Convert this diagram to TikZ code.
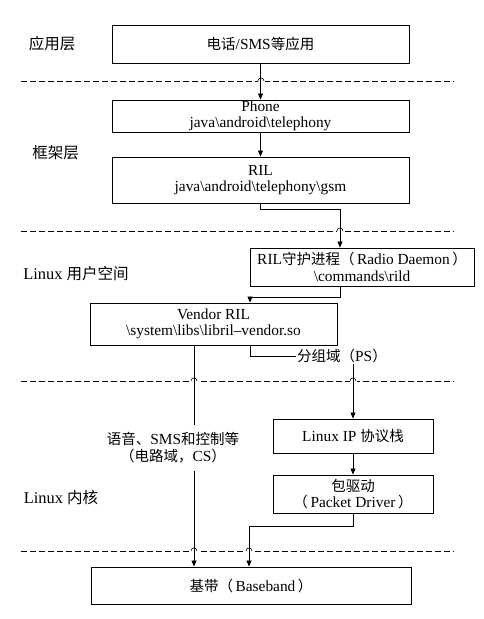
\documentclass[tikz,border=0pt]{standalone}
\usepackage{fontspec}
\setmainfont{Liberation Serif}[Scale=1.06]
\newfontfamily\cjk{Noto Sans CJK SC}
\usetikzlibrary{arrows.meta}
\newcommand{\bs}{\textbackslash}
\begin{document}
\begin{tikzpicture}[x=1pt,y=-1pt,
  box/.style={draw, line width=0.9pt, inner sep=0pt, align=center,
    font=\fontsize{14.5}{16.5}\selectfont},
  lbl/.style={inner sep=1pt, align=center, font=\fontsize{14.5}{17}\selectfont},
  side/.style={inner sep=1pt, font=\fontsize{15.5}{17}\selectfont},
  conn/.style={line width=0.8pt, -{Triangle[length=6pt,width=5pt]}},
  plain/.style={line width=0.8pt},
  sep/.style={dashed, dash pattern=on 6pt off 3pt, line width=0.8pt}]
\useasboundingbox (0,0) rectangle (484,619);
% layer separators
\foreach \yy in {81,231,381,551}
  \draw[sep] (21,\yy) -- (454,\yy);
\foreach \xx/\yy in {261/81,340/231,194/381,353/381,194/551,249/551}
  \fill[white] (\xx-3.5,\yy-1.5) rectangle (\xx+3.5,\yy+1.5);
% layer labels
\node[side] (l1) at (52,44) {\cjk 应用层};
\node[side] (l2) at (55.5,153) {\cjk 框架层};
\node[side] (l3) at (76,274) {Linux {\cjk 用户空间}};
\node[side] (l4) at (61,498) {Linux {\cjk 内核}};
% boxes
\node[box, minimum width=297pt, minimum height=38pt] (app) at (260.5,44) {{\cjk 电话}/SMS{\cjk 等应用}};
\node[box, minimum width=297pt, minimum height=32pt] (phone) at (260.5,116) {Phone\\java\bs android\bs telephony};
\node[box, minimum width=297pt, minimum height=46pt] (ril) at (260.5,180) {RIL\\java\bs android\bs telephony\bs gsm};
\node[box, minimum width=224pt, minimum height=38pt] (daemon) at (362,267) {RIL{\cjk 守护进程（}\,Radio Daemon\,{\cjk ）}\\\bs commands\bs rild};
\node[box, minimum width=247pt, minimum height=42pt] (vendor) at (213.5,324) {Vendor RIL\\\bs system\bs libs\bs libril--vendor.so};
\node[box, minimum width=160pt, minimum height=34pt] (ip) at (353,436) {Linux IP {\cjk 协议栈}};
\node[box, minimum width=160pt, minimum height=38pt] (driver) at (353,494) {{\cjk 包驱动}\\{\cjk （}\,Packet Driver\,{\cjk ）}};
\node[box, minimum width=320pt, minimum height=37pt] (base) at (251,585.5) {{\cjk 基带（}\,Baseband\,{\cjk ）}};
\node[lbl, anchor=west] (ps) at (296,356) {{\cjk 分组域（}PS{\cjk ）}};
% connectors
\draw[conn] (app.south) -- (phone.north);
\draw[conn] (phone.south) -- (ril.north);
\draw[conn] (ril.south) -- ++(0,6) -| ([xshift=-22pt]daemon.north);
\draw[conn] ([xshift=-22pt]daemon.south) -- ++(0,11) -| ([xshift=36.5pt]vendor.north);
\draw[conn] ([xshift=-19.5pt]vendor.south) -- ([xshift=-19.5pt]vendor.south |- base.north);
\draw[plain] ([xshift=36.5pt]vendor.south) |- (ps.west);
\draw[conn] (ps.south -| ip.north) -- (ip.north);
\draw[conn] (ip.south) -- (driver.north);
\draw[conn] (driver.south) -- ++(0,13) -| ([xshift=-2pt]base.north);
% label over the circuit-domain line
\node[lbl, fill=white, inner xsep=2pt, inner ysep=8pt] (cs) at (173,448) {{\cjk 语音、}SMS{\cjk 和控制等}\\{\cjk （电路域，}CS{\cjk ）}};
% line hops on separators
\foreach \xx/\yy in {261/81,340/231,194/381,353/381,194/551,249/551}
  \draw[line width=0.6pt] (\xx-3,\yy) .. controls (\xx-3,\yy-4) and (\xx+3,\yy-4) .. (\xx+3,\yy);
\end{tikzpicture}
\end{document}
